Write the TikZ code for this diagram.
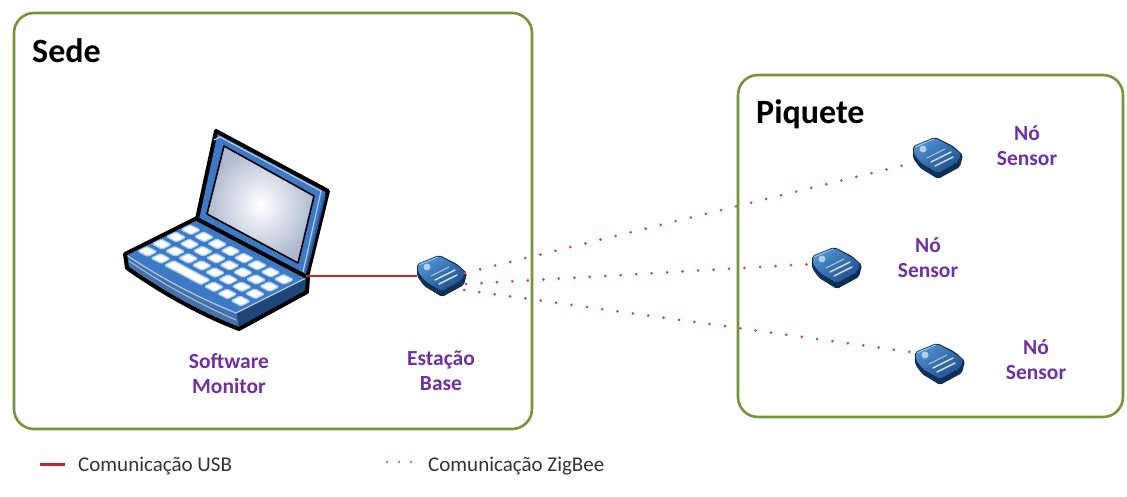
\documentclass[tikz,border=0pt]{standalone}
\usepackage{fontspec}
\setmainfont{Carlito}
\usetikzlibrary{calc}

\definecolor{boxgreen}{HTML}{77933C}
\definecolor{lblpurple}{HTML}{7030A0}
\definecolor{usbred}{HTML}{C0282D}
\definecolor{zbred}{HTML}{D0484A}
\definecolor{xbdark}{HTML}{102F55}
\definecolor{xbmid}{HTML}{1F4F8C}
\definecolor{xblight}{HTML}{4F90CF}
\definecolor{lapblue}{HTML}{3D79C4}
\definecolor{lapdark}{HTML}{25589A}
\definecolor{keyglow}{HTML}{A9CDF2}
\definecolor{screenedge}{HTML}{AEB9CF}
\definecolor{legendgray}{HTML}{333333}

% one key cap as a parallelogram in deck coordinates
\newcommand\keycapat[4]{\draw[keycap] (#1,#2) -- ++(#3,0) -- ++(0,#4) -- ++(-#3,0) -- cycle;}

\tikzset{
  area/.style={draw=boxgreen, line width=2.6pt, rounded corners=20pt},
  areatitle/.style={anchor=base west, inner sep=0, font=\fontsize{34}{40}\selectfont\bfseries},
  devlabel/.style={align=center, inner sep=0, text=lblpurple, font=\fontsize{21.5}{25}\selectfont\bfseries},
  legendtext/.style={anchor=west, inner sep=0, text=legendgray, font=\fontsize{21}{24}\selectfont},
  module/.style={minimum width=48pt, minimum height=42pt, inner sep=0},
  usblink/.style={draw=usbred, line width=2.4pt},
  zblink/.style={draw=zbred, line width=3pt, line cap=round, dash pattern=on 0pt off 15.5pt},
  keycap/.style={fill=white, draw=keyglow, line width=1.2pt, rounded corners=1.5pt},
  % XBee radio module seen in perspective
  xbee/.pic={
    \fill[xbdark, rounded corners=2pt] (-24,-12) -- (-2,-21) -- (16,-12) -- (26,-3) -- (23,9) -- (1,21) -- (-17,10) -- (-24,0) -- cycle;
    \shade[shading=axis, top color=xblight, bottom color=xbmid, shading angle=35, rounded corners=2pt]
      (-23,-12) -- (-2,-20) -- (15,-11) -- (24,-4) -- (21,4) -- (1,15) -- (-16,5) -- (-23,-4) -- cycle;
    \fill[white, opacity=0.6] (-14,-9) circle (3.5pt);
    \draw[white, opacity=0.5, line width=0.8pt] (-22,-11) -- (-3,-19);
    \draw[white, opacity=0.8, line width=1.4pt, line cap=round] (-6,4) -- (14,-6);
    \draw[white, opacity=0.8, line width=1.4pt, line cap=round] (-2,8) -- (16,-1);
    \draw[white, opacity=0.6, line width=1pt, line cap=round] (-10,0) -- (8,-9);
  }
}

\begin{document}
\begin{tikzpicture}[x=1pt, y=-1pt]
\path[use as bounding box] (0,0) rectangle (1127,497);

% the two sites
\draw[area] (14,13) rectangle (532,429);
\draw[area] (738,75) rectangle (1123,417);
\node[areatitle] (sede) at (32,63) {Sede};
\node[areatitle] (piquete) at (756,124) {Piquete};

% ---- laptop ----
\coordinate (Bk) at (197,218);
\coordinate (Br) at (308,277);
\coordinate (Fr) at (236,313);
\coordinate (Fl) at (125,254);
\coordinate (Flb) at (127,268);
\coordinate (Frb) at (239,329);
\coordinate (Brb) at (307,292);
% front face
\fill[lapdark!85!white] (Fl) .. controls (162,279) and (199,298) .. (Fr) -- (Frb) .. controls (202,315) and (164,294) .. (Flb) -- cycle;
\draw[white!55!lapblue, line width=1pt] (129,261) .. controls (164,285) and (200,304) .. (236,320);
% right face
\fill[lapdark!80!black] (Fr) -- (Br) -- (Brb) -- (Frb) -- cycle;
% keyboard deck
\fill[lapblue] (Fl) -- (Bk) -- (Br) -- (Fr) .. controls (199,298) and (162,279) .. (Fl) -- cycle;
\draw[white!60!lapblue, line width=1.2pt] (Fl) .. controls (162,279) and (199,298) .. (Fr) -- (Br);
\draw[black, line width=4pt, line join=round]
  (Fl) -- (Bk) -- (Br) -- (Brb) -- (Frb) .. controls (202,315) and (164,294) .. (Flb) -- cycle;
% keys
\begin{scope}[shift={(Bk)}, x={(111pt,-59pt)}, y={(-72pt,-36pt)}]
  \foreach \r in {0,1,2} {
    \foreach \c in {0,...,7} {
      \keycapat{0.03+0.12*\c}{0.14+0.2*\r}{0.09}{0.13}
    }
  }
  \foreach \c in {0,1,5,6,7} {
    \keycapat{0.03+0.12*\c}{0.74}{0.09}{0.13}
  }
  \keycapat{0.27}{0.74}{0.33}{0.13}
\end{scope}
% lid
\filldraw[fill=lapblue, draw=black, line width=4pt, line join=round]
  (216,131) -- (328,191) -- (307,277) -- (197,219) -- cycle;
\draw[white!60!lapblue, line width=1.2pt] (214,140) -- (220,137) -- (321,191) -- (303,272);
\draw[lapdark, line width=2pt] (325,195) -- (306,272);
\shade[inner color=white, outer color=screenedge]
  (224,146) -- (314,196) -- (298,263) -- (207,214) -- cycle;
\draw[black, line width=1.6pt, line join=round]
  (224,146) -- (314,196) -- (298,263) -- (207,214) -- cycle;
\coordinate (usbport) at (306,276);

% ---- radio modules ----
\node[module] (base) at (441,276) {};
\node[module] (s1) at (937,158) {};
\node[module] (s2) at (836,268) {};
\node[module] (s3) at (939,364) {};
\pic at (base) {xbee};
\pic at (s1) {xbee};
\pic at (s2) {xbee};
\pic at (s3) {xbee};

% ---- links ----
\draw[usblink] (usbport) -- (base.west);
\coordinate (zbA) at (465,273);
\coordinate (zbB) at (466,284);
\coordinate (zbC) at (464,290);
\draw[zblink] (zbA) -- ($(s1.west)+(0,5)$);
\draw[zblink] (zbB) -- ($(s2.west)+(0,-4)$);
\draw[zblink] (zbC) -- ($(s3.west)+(-4,-12)$);

% ---- labels ----
\node[devlabel] (lpc) at (229,374) {Software\\Monitor};
\node[devlabel] (lbase) at (441,371) {Estação\\Base};
\node[devlabel] (l1) at (1027,146) {Nó\\Sensor};
\node[devlabel] (l2) at (928,258) {Nó\\Sensor};
\node[devlabel] (l3) at (1036,360) {Nó\\Sensor};

% ---- legend ----
\coordinate (lu1) at (40,464);
\coordinate (lu2) at (65,464);
\draw[usblink, line width=3pt] (lu1) -- (lu2);
\node[legendtext] (lusb) at (78,466) {Comunicação USB};
\coordinate (lz1) at (387,462);
\coordinate (lz2) at (412,462);
\draw[zblink, line width=2.4pt, dash pattern=on 0pt off 12pt] (lz1) -- (lz2);
\node[legendtext] (lzb) at (428,466) {Comunicação ZigBee};
\end{tikzpicture}
\end{document}
